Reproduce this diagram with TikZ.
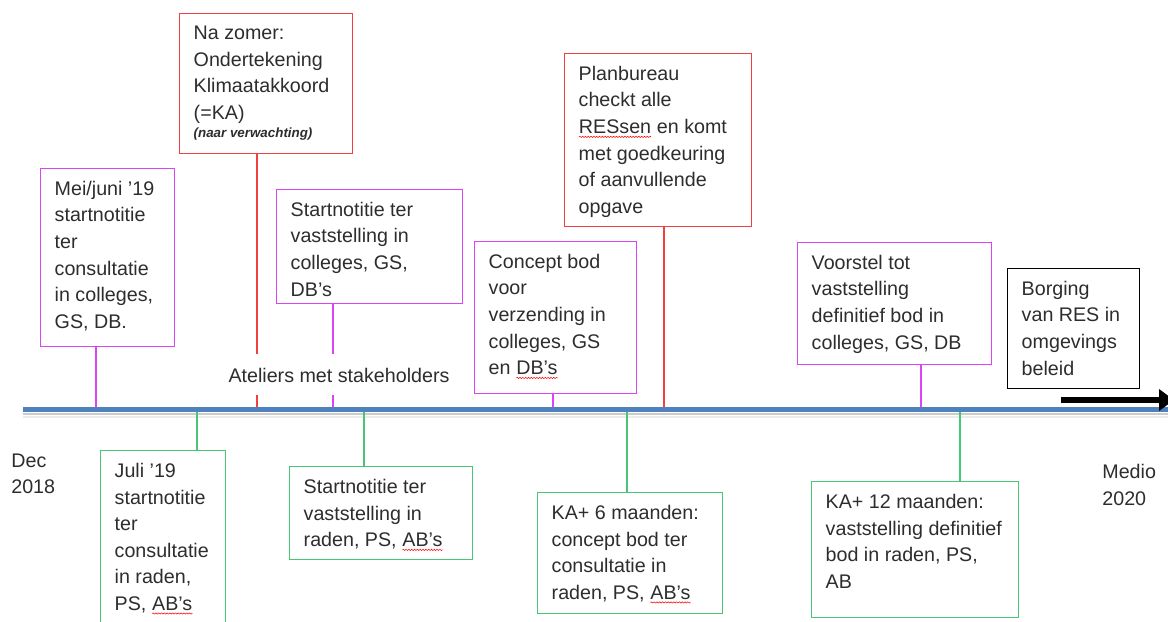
\documentclass[tikz,border=0pt]{standalone}
\usepackage{fontspec}
\setmainfont{Liberation Sans}
\usetikzlibrary{arrows.meta,decorations.pathmorphing}
\definecolor{tlblue}{RGB}{79,129,189}
\definecolor{evmag}{RGB}{218,68,245}
\definecolor{evred}{RGB}{240,64,64}
\definecolor{evgreen}{RGB}{72,198,118}
\definecolor{evtext}{RGB}{45,45,45}
\newdimen\pxu \pxu=0.2mm
\newcommand\evfont{\fontsize{11.2}{15.1}\selectfont}
\newcommand\evtext[3]{\parbox[t][\dimexpr #2\pxu-5mm\relax][t]{\dimexpr #1\pxu-5.6mm\relax}{\raggedright #3}}
\newcommand\spell[1]{\tikz[baseline=(w.base)]{\node[inner sep=0pt,outer sep=0pt] (w) {#1};
  \draw[red,line width=0.3pt,decorate,decoration={snake,amplitude=0.35pt,segment length=1.6pt}]
    ([yshift=-1.8pt]w.south west) -- ([yshift=-1.8pt]w.south east);}}
\tikzset{evt/.style={draw, line width=0.8pt, inner xsep=2.8mm, inner ysep=2.5mm, anchor=north west, font=\evfont, text=evtext},
  magbox/.style={evt, draw=evmag}, redbox/.style={evt, draw=evred},
  greenbox/.style={evt, draw=evgreen}, blackbox/.style={evt, draw=black},
  stem/.style={line width=0.8pt},
  plain/.style={font=\evfont, text=evtext, align=left}}

\begin{document}
\begin{tikzpicture}[x=0.2mm,y=-0.2mm]
  \useasboundingbox (0,0) rectangle (1168,622);
  % shadow under the time line
  \draw[gray!15,line width=1.2pt] (23,417) -- (1168,417);
  \draw[gray!40,line width=1.2pt] (23,414) -- (1168,414);
  % boxes above the time line
  \node[magbox] (mei) at (40,168) {\evtext{134}{178}{Mei/juni ’19\\startnotitie\\ter\\consultatie\\in colleges,\\GS, DB.}};
  \node[redbox] (zomer) at (179,13) {\evtext{173}{140}{Na zomer:\\Ondertekening\\Klimaatakkoord\\(=KA)\\[-4.9pt]{\fontsize{7.6}{9}\selectfont\bfseries\itshape (naar verwachting)}}};
  \node[magbox] (startcol) at (276,189) {\evtext{186}{114}{Startnotitie ter\\vaststelling in\\colleges, GS,\\DB’s}};
  \node[magbox] (concept) at (474,241) {\evtext{162}{152}{Concept bod\\voor\\verzending in\\colleges, GS\\en \spell{DB’s}}};
  \node[redbox] (plan) at (564,53) {\evtext{187}{173}{Planbureau\\checkt alle\\\spell{RESsen} en komt\\met goedkeuring\\of aanvullende\\opgave}};
  \node[magbox] (voorstel) at (797,242) {\evtext{194}{122}{Voorstel tot\\vaststelling\\definitief bod in\\colleges, GS, DB}};
  \node[blackbox] (borging) at (1007,268) {\evtext{132}{120}{Borging\\van RES in\\omgevings\\beleid}};
  % boxes below the time line
  \node[greenbox] (juli) at (100,450) {\evtext{125}{185}{Juli ’19\\startnotitie\\ter\\consultatie\\in raden,\\PS, \spell{AB’s}}};
  \node[greenbox] (startraden) at (289,466) {\evtext{183}{93}{Startnotitie ter\\vaststelling in\\raden, PS, \spell{AB’s}}};
  \node[greenbox] (ka6) at (537,492) {\evtext{185}{121}{KA+ 6 maanden:\\concept bod ter\\consultatie in\\raden, PS, \spell{AB’s}}};
  \node[greenbox] (ka12) at (811,481) {\evtext{207}{136}{KA+ 12 maanden:\\vaststelling definitief\\bod in raden, PS,\\AB}};
  \node[plain, anchor=west, inner sep=0pt] (dec) at (11,474) {Dec\\2018};
  \node[plain, anchor=west, inner sep=0pt] (medio) at (1102,485) {Medio\\2020};
  % points on the time line
  \foreach \n/\x in {mei/96,zomer/257,juli/197,startcol/333,startraden/364,concept/553,ka6/627,plan/664,voorstel/921,ka12/960}
    \coordinate (\n-t) at (\x,410);
  \foreach \n/\c in {mei/evmag,zomer/evred,startcol/evmag,concept/evmag,plan/evred,voorstel/evmag}
    \draw[stem,\c] (\n.south -| \n-t) -- (\n-t);
  \foreach \n in {juli,startraden,ka6,ka12}
    \draw[stem,evgreen] (\n-t) -- (\n.north -| \n-t);
  \node[plain, fill=white, inner xsep=1pt, minimum height=8.2mm] (atel) at (339,375) {Ateliers met stakeholders};
  % time line
  \draw[tlblue,line width=1mm] (23,410) -- (1168,410);
  \coordinate (arr-s) at (1061,400);
  \coordinate (arr-e) at (1174,400);
  \draw[line width=1.2mm,-{Triangle[length=3mm,width=4.2mm]}] (arr-s) -- (arr-e);
\end{tikzpicture}
\end{document}
